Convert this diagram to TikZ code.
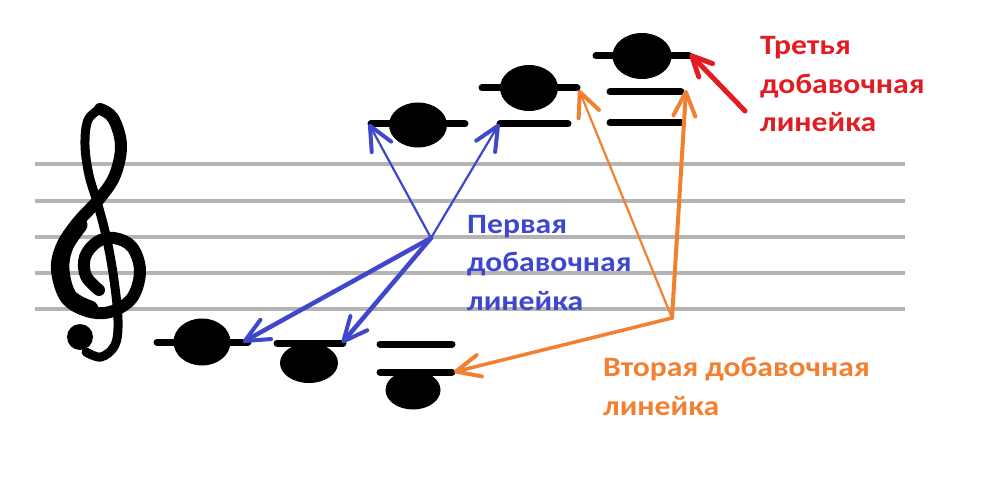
\documentclass[tikz,border=0pt]{standalone}
\usepackage{fontspec}
\setmainfont{Carlito}
\newfontfamily\labfont[FakeStretch=1.13]{Carlito}
\usetikzlibrary{arrows.meta,shapes.geometric}
\definecolor{staffgray}{HTML}{B4B4B4}
\definecolor{lblue}{HTML}{3F48CC}
\definecolor{lorange}{HTML}{F28030}
\definecolor{lred}{HTML}{E31C24}
\tikzset{
  staffline/.style={staffgray, line width=4pt},
  ledger/.style={black, line width=7pt, line cap=round},
  note/.style={ellipse, fill=black, inner sep=0pt, outer sep=0pt},
  barb/.style={-{Straight Barb[length=24pt,width=22pt,line width=4pt,round]}, line cap=round},
  smallbarb/.style={-{Straight Barb[length=20pt,width=19pt,line width=5pt,round]}, line cap=round},
  label/.style={font=\labfont\fontsize{28}{38.5}\selectfont\bfseries, align=left, anchor=base west, inner sep=0pt},
}
\begin{document}
\begin{tikzpicture}[x=1pt,y=-1pt]
\useasboundingbox (0,0) rectangle (993,481);
\fill[white] (0,0) rectangle (993,481);
% staff
\foreach \yy in {164,201,237,273,309} \draw[staffline] (35,\yy) -- (905,\yy);
% treble clef
\draw[line width=12pt, line cap=round, line join=round] plot[smooth, tension=0.6] coordinates {(99,290) (86,276) (85,257) (97,242) (114,238) (132,247) (140,271) (132,298) (110,312) (87,311) (66,298) (57,270) (62,246) (78,222) (100,198) (115,175) (121,145) (113,118) (100,109)};
\draw[line width=17pt, line cap=round, line join=round] plot[smooth, tension=0.6] coordinates {(90,309) (69,297) (61,270) (65,246) (79,225)};
\draw[line width=9pt, line cap=round, line join=round] plot[smooth, tension=0.6] coordinates {(100,109) (88,120) (85,145) (89,175) (98,205) (107,240) (114,280) (118,320) (115,345) (101,357) (86,352)};
\fill (80,337) circle (13pt);
% ledger lines
\draw[ledger] (157,342) -- (248,342);
\draw[ledger] (277,343) -- (343,343);
\draw[ledger] (380,344) -- (452,344);
\draw[ledger] (380,372) -- (452,372);
\draw[ledger] (371,124) -- (465,124);
\draw[ledger] (500,124) -- (568,124);
\draw[ledger] (482,88) -- (577,88);
\draw[ledger] (610,123) -- (681,123);
\draw[ledger] (610,92) -- (681,92);
\draw[ledger] (596,56) -- (689,56);
% notes
\node[note, minimum width=57pt, minimum height=47pt] (n1) at (202,342) {};
\node[note, minimum width=58pt, minimum height=40pt] (n2) at (309,363) {};
\node[note, minimum width=55pt, minimum height=39pt] (n3) at (413,390) {};
\node[note, minimum width=58pt, minimum height=45pt] (n4) at (418,125) {};
\node[note, minimum width=58pt, minimum height=46pt] (n5) at (529,88) {};
\node[note, minimum width=59pt, minimum height=46pt] (n6) at (642,56) {};
% arrow end points
\coordinate (n1r) at (243,342);
\coordinate (n2r) at (342,343);
\coordinate (n3r) at (454,372);
\coordinate (n4l) at (369,124);
\coordinate (n5l) at (499,124);
\coordinate (n5r) at (579,90);
\coordinate (n6m) at (686,90);
\coordinate (n6r) at (690,54);
\coordinate (hubB) at (431,238);
\coordinate (hubO) at (672,318);
\coordinate (tailR) at (745,111);
% blue arrows
\draw[lblue, line width=2.2pt, barb] (hubB) -- (n4l);
\draw[lblue, line width=2.2pt, barb] (hubB) -- (n5l);
\draw[lblue, line width=4.5pt, barb] (hubB) -- (n1r);
\draw[lblue, line width=4.5pt, barb] (hubB) -- (n2r);
% orange arrows
\draw[lorange, line width=2.2pt, barb] (hubO) -- (n5r);
\draw[lorange, line width=4pt, barb] (hubO) -- (n6m);
\draw[lorange, line width=3.5pt, barb] (hubO) -- (n3r);
% red arrow
\draw[lred, line width=5pt, smallbarb] (tailR) -- (n6r);
% labels (anchor = baseline of last line)
\node[label, text=lblue] (lb) at (467,310) {Первая\\добавочная\\линейка};
\node[label, text=lorange] (lo) at (603,415) {Вторая добавочная\\линейка};
\node[label, text=lred] (lr) at (760,132) {Третья\\добавочная\\линейка};
\end{tikzpicture}
\end{document}
